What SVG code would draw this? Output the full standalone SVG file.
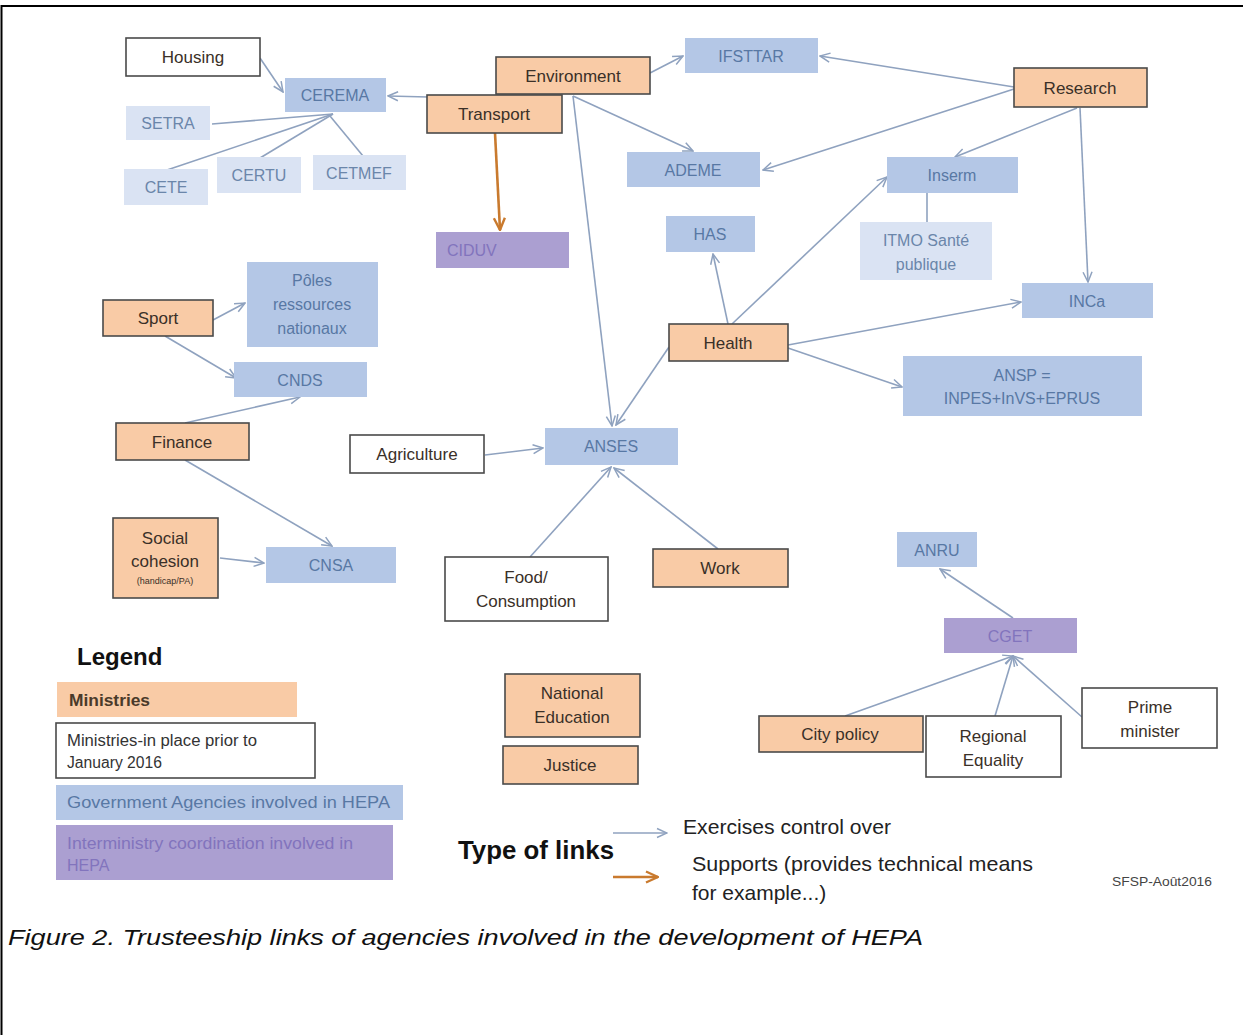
<svg xmlns="http://www.w3.org/2000/svg" width="1243" height="1035" viewBox="0 0 1243 1035">
<style>
text{font-family:"Liberation Sans","Open Sans",sans-serif;text-anchor:middle}
.min{fill:#f9cba6;stroke:#4a4a4a;stroke-width:1.6}
.wht{fill:#ffffff;stroke:#4a4a4a;stroke-width:1.6}
.ag{fill:#b4c7e6}
.lag{fill:#dae3f3}
.pur{fill:#ab9fd1}
.tm{font-size:17px;fill:#3a3028}
.ta{font-size:16px;fill:#5878a4}
.tl{font-size:16px;fill:#6b86aa}
.tp{font-size:16px;fill:#8274bd}
.ln{fill:none;stroke:#8fa2bf;stroke-width:1.6}
.lo{fill:none;stroke:#c97a2e;stroke-width:2.6}
.lg{font-size:16px;text-anchor:start}
</style>
<defs>
<marker id="a" viewBox="0 0 12 12" refX="11" refY="6" markerWidth="12" markerHeight="12" markerUnits="userSpaceOnUse" orient="auto">
<path d="M1,1.5 L11,6 L1,10.5" fill="none" stroke="#8fa2bf" stroke-width="1.5"/>
</marker>
<marker id="o" viewBox="0 0 14 14" refX="13" refY="7" markerWidth="14" markerHeight="14" markerUnits="userSpaceOnUse" orient="auto">
<path d="M1,1.5 L13,7 L1,12.5" fill="none" stroke="#c97a2e" stroke-width="2.4"/>
</marker>
</defs>
<rect width="1243" height="1035" fill="#ffffff"/>
<path d="M1.5,1035 L1.5,6 L1243,6" fill="none" stroke="#000" stroke-width="2"/>

<g id="connectors">
<line class="ln" x1="333" y1="114" x2="212" y2="124"/>
<line class="ln" x1="333" y1="114" x2="167" y2="170"/>
<line class="ln" x1="333" y1="114" x2="260" y2="158"/>
<line class="ln" x1="330" y1="116" x2="363" y2="156"/>
<line class="ln" x1="927" y1="193" x2="927" y2="222"/>
<line class="ln" x1="260" y1="58" x2="283" y2="92" marker-end="url(#a)"/>
<line class="ln" x1="428" y1="97" x2="388" y2="96" marker-end="url(#a)"/>
<line class="ln" x1="650" y1="73" x2="683" y2="56" marker-end="url(#a)"/>
<line class="ln" x1="573" y1="96" x2="693" y2="151" marker-end="url(#a)"/>
<line class="ln" x1="573" y1="96" x2="612" y2="426" marker-end="url(#a)"/>
<line class="ln" x1="1014" y1="87" x2="820" y2="56" marker-end="url(#a)"/>
<line class="ln" x1="1014" y1="89" x2="763" y2="170" marker-end="url(#a)"/>
<line class="ln" x1="1077" y1="108" x2="955" y2="157" marker-end="url(#a)"/>
<line class="ln" x1="1080" y1="108" x2="1088" y2="282" marker-end="url(#a)"/>
<line class="ln" x1="728" y1="324" x2="713" y2="254" marker-end="url(#a)"/>
<line class="ln" x1="732" y1="324" x2="887" y2="177" marker-end="url(#a)"/>
<line class="ln" x1="788" y1="345" x2="1021" y2="302" marker-end="url(#a)"/>
<line class="ln" x1="788" y1="348" x2="902" y2="387" marker-end="url(#a)"/>
<line class="ln" x1="669" y1="347" x2="616" y2="425" marker-end="url(#a)"/>
<line class="ln" x1="213" y1="320" x2="245" y2="303" marker-end="url(#a)"/>
<line class="ln" x1="165" y1="336" x2="236" y2="378" marker-end="url(#a)"/>
<line class="ln" x1="185" y1="423" x2="300" y2="397" marker-end="url(#a)"/>
<line class="ln" x1="185" y1="460" x2="332" y2="546" marker-end="url(#a)"/>
<line class="ln" x1="220" y1="558" x2="264" y2="563" marker-end="url(#a)"/>
<line class="ln" x1="485" y1="455" x2="543" y2="448" marker-end="url(#a)"/>
<line class="ln" x1="530" y1="557" x2="611" y2="467" marker-end="url(#a)"/>
<line class="ln" x1="718" y1="549" x2="614" y2="468" marker-end="url(#a)"/>
<line class="ln" x1="1013" y1="618" x2="940" y2="569" marker-end="url(#a)"/>
<line class="ln" x1="845" y1="716" x2="1013" y2="656" marker-end="url(#a)"/>
<line class="ln" x1="995" y1="716" x2="1013" y2="656" marker-end="url(#a)"/>
<line class="ln" x1="1082" y1="717" x2="1013" y2="656" marker-end="url(#a)"/>
<line class="lo" x1="495" y1="133" x2="500" y2="230" marker-end="url(#o)"/>
</g>

<g id="housing"><rect class="wht" x="126" y="38" width="134" height="38"/><text class="tm" x="193" y="63">Housing</text></g>
<g id="cerema"><rect class="ag" x="285" y="78" width="101" height="34"/><text class="ta" x="335" y="101">CEREMA</text></g>
<g id="setra"><rect class="lag" x="126" y="106" width="84" height="34"/><text class="tl" x="168" y="129">SETRA</text></g>
<g id="cete"><rect class="lag" x="124" y="169" width="84" height="36"/><text class="tl" x="166" y="193">CETE</text></g>
<g id="certu"><rect class="lag" x="217" y="157" width="84" height="36"/><text class="tl" x="259" y="181">CERTU</text></g>
<g id="cetmef"><rect class="lag" x="313" y="155" width="93" height="35"/><text class="tl" x="359" y="179">CETMEF</text></g>
<g id="environment"><rect class="min" x="496" y="57" width="154" height="37"/><text class="tm" x="573" y="82">Environment</text></g>
<g id="transport"><rect class="min" x="427" y="95" width="135" height="38"/><text class="tm" x="494" y="120">Transport</text></g>
<g id="ifsttar"><rect class="ag" x="685" y="38" width="133" height="35"/><text class="ta" x="751" y="62">IFSTTAR</text></g>
<g id="research"><rect class="min" x="1014" y="68" width="133" height="39"/><text class="tm" x="1080" y="94">Research</text></g>
<g id="ademe"><rect class="ag" x="627" y="152" width="133" height="35"/><text class="ta" x="693" y="176">ADEME</text></g>
<g id="ciduv"><rect class="pur" x="436" y="232" width="133" height="36"/><text class="tp" x="447" y="256" style="text-anchor:start">CIDUV</text></g>
<g id="inserm"><rect class="ag" x="887" y="157" width="131" height="36"/><text class="ta" x="952" y="181">Inserm</text></g>
<g id="itmo"><rect class="lag" x="860" y="222" width="132" height="58"/><text class="tl" x="926" y="246">ITMO Santé</text><text class="tl" x="926" y="270">publique</text></g>
<g id="has"><rect class="ag" x="666" y="216" width="89" height="36"/><text class="ta" x="710" y="240">HAS</text></g>
<g id="inca"><rect class="ag" x="1022" y="283" width="131" height="35"/><text class="ta" x="1087" y="307">INCa</text></g>
<g id="health"><rect class="min" x="669" y="324" width="119" height="37"/><text class="tm" x="728" y="349">Health</text></g>
<g id="ansp"><rect class="ag" x="903" y="356" width="239" height="60"/><text class="ta" x="1022" y="381">ANSP =</text><text class="ta" x="1022" y="404">INPES+InVS+EPRUS</text></g>
<g id="sport"><rect class="min" x="103" y="300" width="110" height="36"/><text class="tm" x="158" y="324">Sport</text></g>
<g id="poles"><rect class="ag" x="247" y="262" width="131" height="85"/><text class="ta" x="312" y="286">Pôles</text><text class="ta" x="312" y="310">ressources</text><text class="ta" x="312" y="334">nationaux</text></g>
<g id="cnds"><rect class="ag" x="234" y="362" width="133" height="35"/><text class="ta" x="300" y="386">CNDS</text></g>
<g id="finance"><rect class="min" x="116" y="423" width="133" height="37"/><text class="tm" x="182" y="448">Finance</text></g>
<g id="social"><rect class="min" x="113" y="518" width="105" height="80"/><text class="tm" x="165" y="544">Social</text><text class="tm" x="165" y="567">cohesion</text><text x="165" y="584" style="font-size:9px;fill:#3a3028">(handicap/PA)</text></g>
<g id="cnsa"><rect class="ag" x="266" y="547" width="130" height="36"/><text class="ta" x="331" y="571">CNSA</text></g>
<g id="agriculture"><rect class="wht" x="350" y="435" width="134" height="38"/><text class="tm" x="417" y="460">Agriculture</text></g>
<g id="anses"><rect class="ag" x="545" y="428" width="133" height="37"/><text class="ta" x="611" y="452">ANSES</text></g>
<g id="food"><rect class="wht" x="445" y="557" width="163" height="64"/><text class="tm" x="526" y="583">Food/</text><text class="tm" x="526" y="607">Consumption</text></g>
<g id="work"><rect class="min" x="653" y="549" width="135" height="38"/><text class="tm" x="720" y="574">Work</text></g>
<g id="anru"><rect class="ag" x="897" y="532" width="80" height="35"/><text class="ta" x="937" y="556">ANRU</text></g>
<g id="cget"><rect class="pur" x="944" y="618" width="133" height="35"/><text class="tp" x="1010" y="642">CGET</text></g>
<g id="city"><rect class="min" x="759" y="716" width="164" height="36"/><text class="tm" x="840" y="740">City policy</text></g>
<g id="regional"><rect class="wht" x="926" y="716" width="135" height="61"/><text class="tm" x="993" y="742">Regional</text><text class="tm" x="993" y="766">Equality</text></g>
<g id="prime"><rect class="wht" x="1082" y="688" width="135" height="60"/><text class="tm" x="1150" y="713">Prime</text><text class="tm" x="1150" y="737">minister</text></g>
<g id="education"><rect class="min" x="505" y="674" width="135" height="63"/><text class="tm" x="572" y="699">National</text><text class="tm" x="572" y="723">Education</text></g>
<g id="justice"><rect class="min" x="503" y="746" width="135" height="38"/><text class="tm" x="570" y="771">Justice</text></g>

<g id="legend">
<text x="77" y="665" style="font-size:24px;font-weight:bold;fill:#111;text-anchor:start">Legend</text>
<rect x="57" y="682" width="240" height="35" fill="#f9cba6"/>
<text class="lg" x="69" y="706" textLength="81" lengthAdjust="spacingAndGlyphs" style="font-weight:bold;fill:#4a3a2a">Ministries</text>
<rect x="56" y="723" width="259" height="55" fill="#fff" stroke="#4a4a4a" stroke-width="1.6"/>
<text class="lg" x="67" y="746" textLength="190" lengthAdjust="spacingAndGlyphs" style="fill:#333">Ministries-in  place prior to</text>
<text class="lg" x="67" y="768" textLength="95" lengthAdjust="spacingAndGlyphs" style="fill:#333">January 2016</text>
<rect x="56" y="785" width="347" height="35" fill="#b4c7e6"/>
<text class="lg" x="67" y="808" textLength="323" lengthAdjust="spacingAndGlyphs" style="fill:#5878a4">Government  Agencies involved in HEPA</text>
<rect x="56" y="825" width="337" height="55" fill="#ab9fd1"/>
<text class="lg" x="67" y="849" textLength="286" lengthAdjust="spacingAndGlyphs" style="fill:#8274bd">Interministry coordination involved in</text>
<text class="lg" x="67" y="871" style="fill:#8274bd">HEPA</text>
<text x="458" y="859" textLength="156" lengthAdjust="spacingAndGlyphs" style="font-size:25px;font-weight:bold;fill:#111;text-anchor:start">Type of links</text>
<line class="ln" x1="613" y1="833" x2="667" y2="833" marker-end="url(#a)"/>
<line class="lo" x1="613" y1="877" x2="658" y2="877" marker-end="url(#o)"/>
<text x="683" y="834" textLength="208" lengthAdjust="spacingAndGlyphs" style="font-size:21px;fill:#222;text-anchor:start">Exercises control over</text>
<text x="692" y="871" textLength="341" lengthAdjust="spacingAndGlyphs" style="font-size:21px;fill:#222;text-anchor:start">Supports (provides technical means</text>
<text x="692" y="900" style="font-size:21px;fill:#222;text-anchor:start">for example...)</text>
<text x="1112" y="886" textLength="100" lengthAdjust="spacingAndGlyphs" style="font-size:12px;fill:#444;text-anchor:start">SFSP-Août2016</text>
</g>

<text x="8" y="945" textLength="915" lengthAdjust="spacingAndGlyphs" style="font-size:22px;font-style:italic;fill:#111;text-anchor:start">Figure 2. Trusteeship links of agencies involved in the development of HEPA</text>
</svg>
